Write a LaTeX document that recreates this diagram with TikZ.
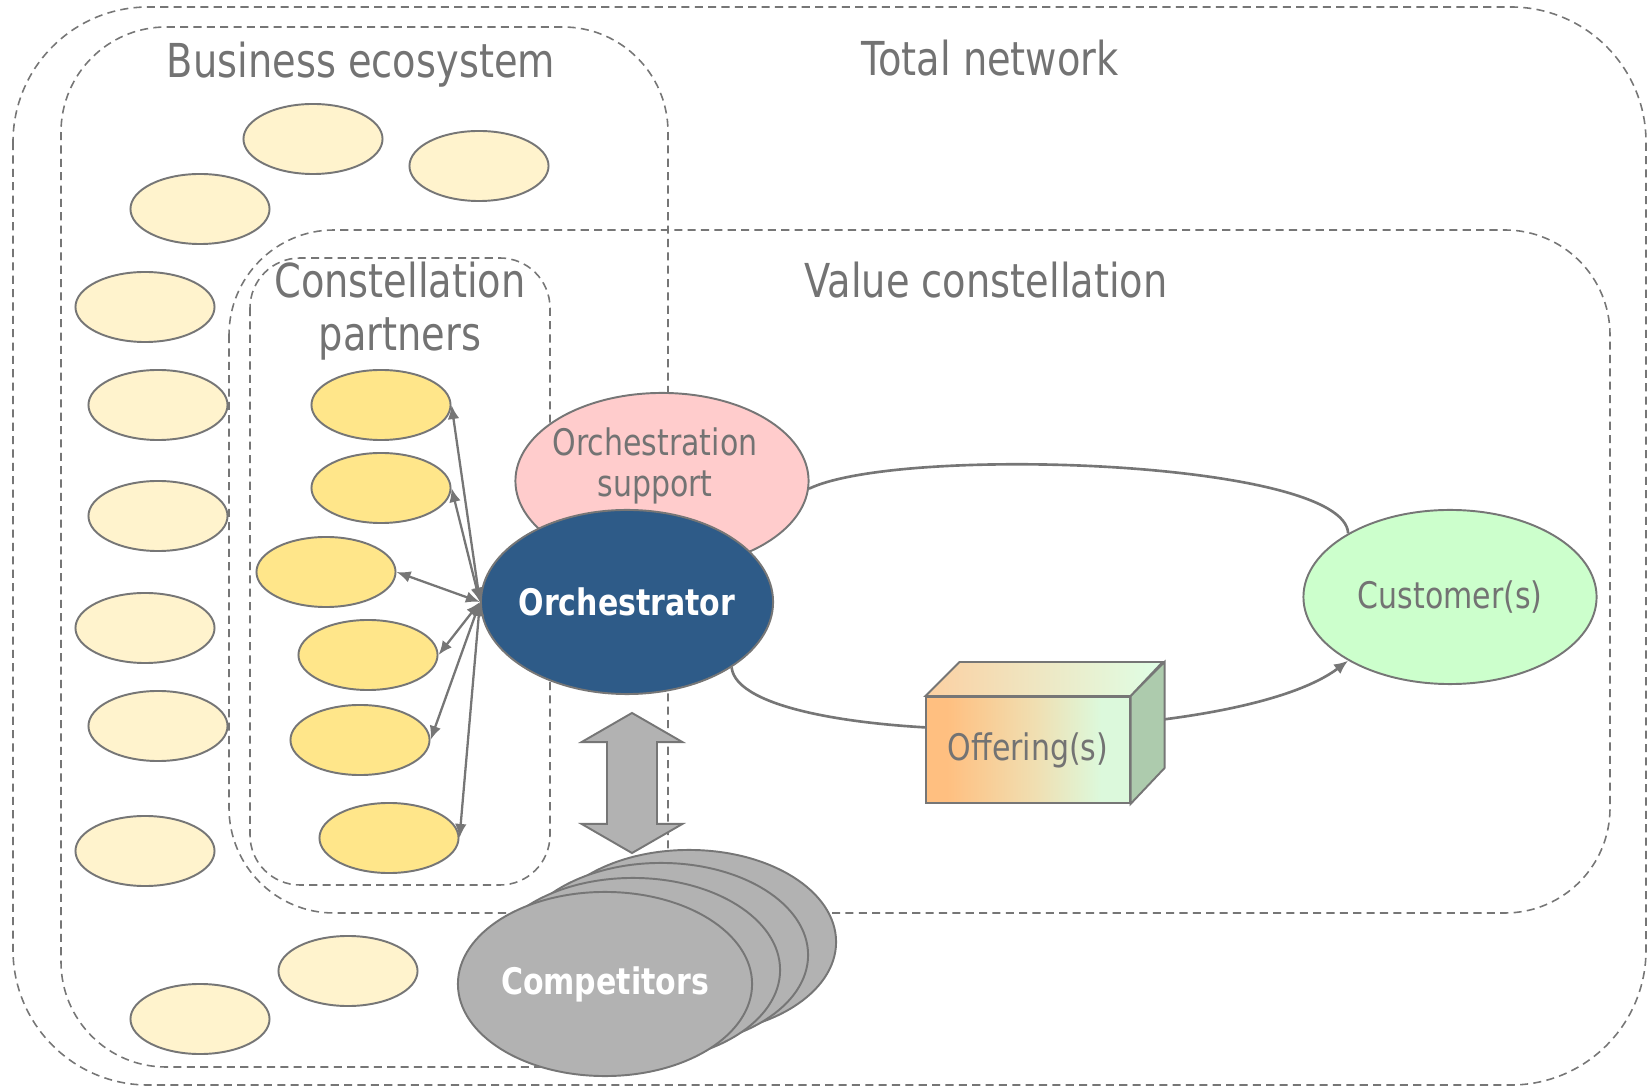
\documentclass[tikz,border=0pt]{standalone}
\usepackage{fontspec}
\setmainfont{DejaVu Sans}[FakeStretch=0.82]
\usetikzlibrary{arrows.meta,shapes,shapes.arrows,calc}

\definecolor{linegray}{HTML}{767676}
\definecolor{textgray}{HTML}{737373}
\definecolor{otheryellow}{HTML}{FFF3CD}
\definecolor{partneryellow}{HTML}{FFE68A}
\definecolor{supportpink}{HTML}{FFCCCC}
\definecolor{orchblue}{HTML}{2E5B88}
\definecolor{custgreen}{HTML}{CCFFCC}
\definecolor{compgray}{HTML}{B2B2B2}
\definecolor{offerorange}{HTML}{FFBF80}
\definecolor{offermid}{HTML}{F0DFB2}
\definecolor{offergreen}{HTML}{DCF9DC}
\definecolor{toporange}{HTML}{FCD0A2}
\definecolor{topgreen}{HTML}{DFFFE6}
\definecolor{sidegreen}{HTML}{ADCBAD}

\pgfdeclarehorizontalshading{offershade}{100bp}{color(0bp)=(offerorange); color(30bp)=(offerorange); color(52bp)=(offermid); color(68bp)=(offergreen); color(100bp)=(offergreen)}

\begin{document}
\begin{tikzpicture}[x=0.01cm,y=-0.01cm]

\tikzset{blob/.style = {shape=ellipse,draw=linegray,line width=0.55pt,minimum width=1.39cm,minimum height=0.70cm,inner sep=0pt}}
\tikzset{other/.style = {blob,fill=otheryellow}}
\tikzset{partner/.style = {blob,fill=partneryellow}}
\tikzset{midtext/.style = {text=textgray,font=\fontsize{10.4}{11.7}\selectfont,align=center}}
\tikzset{big/.style = {shape=ellipse,draw=linegray,line width=0.55pt,minimum width=2.93cm,minimum height=1.76cm,inner sep=0pt,midtext}}
\tikzset{boldtext/.style = {text=white,font=\fontsize{10.4}{12}\selectfont\bfseries}}
\tikzset{region/.style = {draw=linegray,line width=0.45pt,dash pattern=on 2.3pt off 1.5pt}}
\tikzset{title/.style = {text=textgray,font=\fontsize{13.3}{15.1}\selectfont,align=center}}
\tikzset{edge/.style = {{Latex[length=4pt,width=3.3pt]}-{Latex[length=4pt,width=3.3pt]},draw=linegray,line width=0.65pt}}
\tikzset{flow/.style = {draw=linegray,line width=0.75pt}}
\tikzset{face/.style = {draw=linegray,line width=0.55pt}}

\useasboundingbox (0,0) rectangle (1652,1089);

%regions
\draw[region,rounded corners=1.35cm] (13,7) rectangle (1646,1085);
\draw[region,rounded corners=1.05cm] (61,27) rectangle (668,1067);
\draw[region,rounded corners=1.05cm] (229,230) rectangle (1610,913);
\draw[region,rounded corners=0.5cm] (250,258) rectangle (550,885);

%titles
\node[title] (tn) at (990,58) {Total network};
\node[title] (be) at (361,65) {Business ecosystem};
\node[title] (vc) at (986,280) {Value constellation};
\node[title] (cp) at (400,311) {Constellation\\partners};

%ecosystem members
\node[other] (e1) at (313,139) {};
\node[other] (e2) at (479,166) {};
\node[other] (e3) at (200,209) {};
\node[other] (e4) at (145,307) {};
\node[other] (e5) at (158,405) {};
\node[other] (e6) at (158,516) {};
\node[other] (e7) at (145,628) {};
\node[other] (e8) at (158,726) {};
\node[other] (e9) at (145,851) {};
\node[other] (e10) at (348,971) {};
\node[other] (e11) at (200,1019) {};

%partners
\node[partner] (p1) at (381,405) {};
\node[partner] (p2) at (381,488) {};
\node[partner] (p3) at (326,572) {};
\node[partner] (p4) at (368,655) {};
\node[partner] (p5) at (360,740) {};
\node[partner] (p6) at (389,838) {};

%orchestrator and customer
\node[big,fill=supportpink] (support) at (662,481) {};
\node[midtext] (supporttext) at (655,466) {Orchestration\\support};
\node[big,fill=orchblue,minimum width=2.92cm,minimum height=1.84cm,label={[boldtext]center:Orchestrator}] (orch) at (627,602) {};
\node[big,fill=custgreen,minimum height=1.74cm] (cust) at (1450,597) {Customer(s)};

%flows
\draw[flow] (support.-3) .. controls (900,445) and (1345,460) .. (cust.148);
\draw[flow,-{Latex[length=4pt,width=3.4pt]}] (orch.-32) .. controls (740,750) and (1230,750) .. (cust.-148);

%offering
\node[face,minimum width=2.03cm,minimum height=1.06cm,inner sep=0pt,shading=offershade,midtext] (offer) at (1028,750) {Offering(s)};
\draw[face,fill=sidegreen] (offer.north east) -- ++(0.34cm,0.34cm) -- ++(0cm,-1.06cm) -- (offer.south east) -- cycle;
\draw[face,left color=toporange,right color=topgreen] (offer.north west) -- ++(0.34cm,0.34cm) -- ++(2.03cm,0cm) -- (offer.north east) -- cycle;

%partner edges
\draw[edge] (orch.west) to (p1.east);
\draw[edge] (orch.west) to (p2.east);
\draw[edge] (orch.west) to (p3.east);
\draw[edge] (orch.west) to (p4.east);
\draw[edge] (orch.west) to (p5.east);
\draw[edge] (orch.west) to (p6.east);

%competitors
\node[big,fill=compgray,minimum width=2.94cm,minimum height=1.84cm] (c4) at (689,942) {};
\node[big,fill=compgray,minimum width=2.94cm,minimum height=1.84cm] (c3) at (661,955) {};
\node[big,fill=compgray,minimum width=2.94cm,minimum height=1.84cm] (c2) at (633,970) {};
\node[big,fill=compgray,minimum width=2.94cm,minimum height=1.84cm,label={[boldtext]center:Competitors}] (comp) at (605,984) {};

\node[double arrow,rotate=90,draw=linegray,line width=0.55pt,fill=compgray,minimum height=1.40cm,inner xsep=0pt,inner ysep=0.24cm,double arrow head extend=0.255cm,double arrow tip angle=120] (link) at (632,783) {};

\end{tikzpicture}
\end{document}
